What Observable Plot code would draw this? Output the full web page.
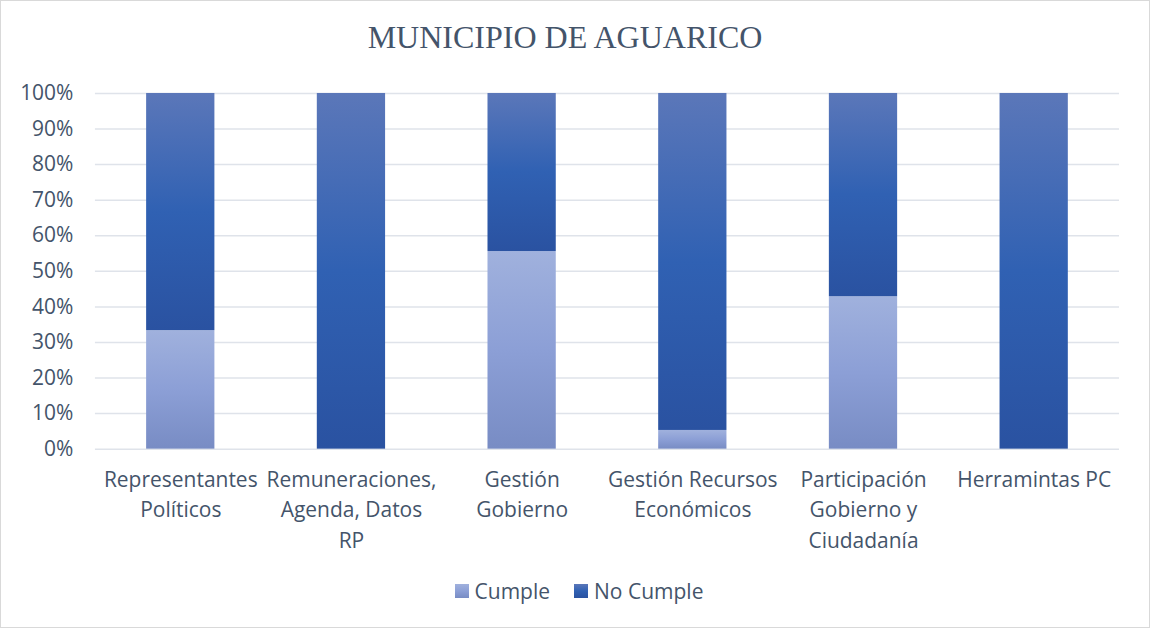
<!DOCTYPE html>
<html>
<head>
<meta charset="utf-8">
<script src="https://cdn.jsdelivr.net/npm/d3@7"></script>
<script src="https://cdn.jsdelivr.net/npm/@observablehq/plot@0.6"></script>
<style>
  html, body { margin: 0; padding: 0; background: #fff; }
  #wrap { position: relative; width: 1148px; height: 626px; border: 1px solid #d9d9d9; background: #fff; overflow: hidden; }
  #title { position: absolute; left: -10px; top: 18px; width: 1148px; text-align: center; font-family: "Liberation Serif", "DejaVu Serif", serif; font-size: 32px; color: #44546a; }
  #chart { position: absolute; left: -1px; top: 59px; }
  #legend { position: absolute; left: 4px; top: 576px; width: 1148px; display: flex; justify-content: center; gap: 24px; font-family: "Open Sans", Lato, sans-serif; font-size: 21px; color: #44546a; }
  .item { display: flex; align-items: center; gap: 6px; }
  .sw { width: 14px; height: 14px; display: inline-block; }
</style>
</head>
<body>
<div id="wrap">
  <div id="title">MUNICIPIO DE AGUARICO</div>
  <div id="chart"></div>
  <div id="legend"></div>
</div>
<script>
const categories = ["Representantes Políticos", "Remuneraciones, Agenda, Datos RP", "Gestión Gobierno", "Gestión Recursos Económicos", "Participación Gobierno y Ciudadanía", "Herramintas PC"];
const xLabels = ["Representantes\nPolíticos", "Remuneraciones,\nAgenda, Datos\nRP", "Gestión\nGobierno", "Gestión Recursos\nEconómicos", "Participación\nGobierno y\nCiudadanía", "Herramintas PC"];
const series = ["Cumple", "No Cumple"];
const cumple = [33.33, 0, 55.56, 5.26, 42.86, 0];
const noCumple = [66.67, 100, 44.44, 94.74, 57.14, 100];
const yTicks = [0, 10, 20, 30, 40, 50, 60, 70, 80, 90, 100];
const gradients = {
  Cumple: ["#a0b1dd", "#8c9fd6", "#788cc4"],
  "No Cumple": ["#5b77b9", "#3061b3", "#2a52a1"]
};
const gradIds = {Cumple: "gCumple", "No Cumple": "gNoCumple"};

const rows = [];
categories.forEach((c, i) => {
  rows.push({cat: c, serie: "Cumple", value: cumple[i]});
  rows.push({cat: c, serie: "No Cumple", value: noCumple[i]});
});

const font = "'Open Sans', Lato, sans-serif";

const plot = Plot.plot({
  width: 1150,
  height: 500,
  marginTop: 33,
  marginBottom: 111,
  marginLeft: 95,
  marginRight: 30,
  style: {fontFamily: font, fontSize: "21px", color: "#44546a", background: "transparent"},
  x: {domain: categories, paddingInner: 0.6, paddingOuter: 0.3, round: false, label: null},
  y: {domain: [0, 100], label: null},
  color: {domain: series, range: series.map(s => `url(#${gradIds[s]})`)},
  marks: [
    Plot.gridY(yTicks, {stroke: "#dfe3ea", strokeOpacity: 1, strokeWidth: 1.5}),
    Plot.barY(rows, {x: "cat", y: "value", fill: "serie", order: series}),
    Plot.axisY(yTicks, {tickSize: 0, tickPadding: 22, tickFormat: d => d + "%", fontSize: 21, fill: "#44546a"}),
    Plot.axisX({tickSize: 0, tickPadding: 16, lineHeight: 1.45, fontSize: 21, fill: "#44546a", lineAnchor: "top",
      tickFormat: d => xLabels[categories.indexOf(d)]})
  ]
});

const svg = d3.select(plot);
const defs = svg.insert("defs", ":first-child");
series.forEach(s => {
  const g = defs.append("linearGradient").attr("id", gradIds[s]).attr("x1", 0).attr("y1", 0).attr("x2", 0).attr("y2", 1);
  gradients[s].forEach((c, i) => g.append("stop").attr("offset", i / 2).attr("stop-color", c));
});
document.getElementById("chart").appendChild(plot);

const legend = document.getElementById("legend");
series.forEach(s => {
  const g = gradients[s];
  const item = document.createElement("div");
  item.className = "item";
  item.innerHTML = `<span class="sw" style="background: linear-gradient(${g[0]}, ${g[1]}, ${g[2]})"></span><span>${s}</span>`;
  legend.appendChild(item);
});
</script>
</body>
</html>
